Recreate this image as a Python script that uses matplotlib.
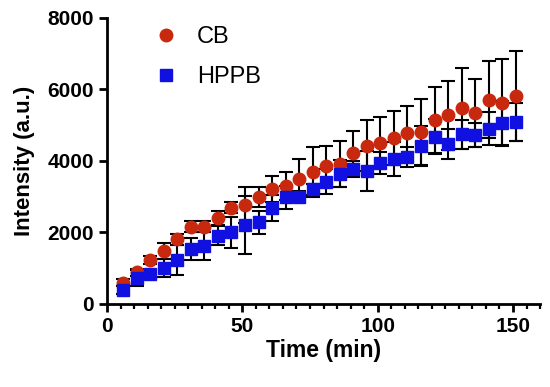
import numpy as np
import matplotlib.pyplot as plt

plt.rcParams['font.family'] = ['Liberation Sans', 'DejaVu Sans']

# time points (min)
time = [6, 11, 16, 21, 26, 31, 36, 41, 46, 51, 56, 61, 66, 71, 76,
        81, 86, 91, 96, 101, 106, 111, 116, 121, 126, 131, 136, 141, 146, 151]

cb_mean = [600, 890, 1230, 1490, 1810, 2160, 2160, 2410, 2690, 2770,
           2980, 3220, 3300, 3500, 3700, 3870, 3920, 4230, 4430, 4510,
           4650, 4770, 4810, 5150, 5280, 5470, 5330, 5720, 5630, 5820]
cb_err = [100, 100, 100, 220, 150, 150, 150, 200, 150, 500,
          280, 360, 390, 550, 700, 560, 650, 600, 720, 710,
          750, 760, 930, 930, 960, 1140, 950, 1070, 1210, 1270]

hppb_mean = [390, 720, 840, 1000, 1230, 1540, 1620, 1910, 2000, 2210,
             2280, 2680, 2980, 3000, 3210, 3420, 3650, 3770, 3720, 3950,
             4060, 4120, 4430, 4680, 4480, 4750, 4730, 4900, 5050, 5090]
hppb_err = [100, 230, 100, 250, 420, 310, 390, 260, 440, 820,
            330, 355, 330, 150, 160, 345, 390, 220, 560, 300,
            485, 280, 560, 485, 420, 410, 330, 465, 615, 520]

fig = plt.figure(figsize=(5.5, 3.87), dpi=100)
ax = fig.add_axes([0.1945, 0.2145, 0.7875, 0.739])

ax.errorbar(time, cb_mean, yerr=cb_err, fmt='o', color='#c8280e', markersize=9,
            ecolor='black', elinewidth=1.5, capsize=5, capthick=1.5, label='CB')
ax.errorbar(time, hppb_mean, yerr=hppb_err, fmt='s', color='#1010e0', markersize=8.5,
            ecolor='black', elinewidth=1.5, capsize=5, capthick=1.5, label='HPPB')

ax.set_xlim(0, 160)
ax.set_ylim(0, 8000)
ax.set_xticks([0, 50, 100, 150])
ax.set_xticks(np.arange(0, 161, 5), minor=True)
ax.set_yticks([0, 2000, 4000, 6000, 8000])

for s in ['top', 'right']:
    ax.spines[s].set_visible(False)
for s in ['left', 'bottom']:
    ax.spines[s].set_linewidth(2)

ax.tick_params(which='major', length=6, width=2, labelsize=15)
ax.tick_params(which='minor', length=3.5, width=1.6)
for lab in ax.get_xticklabels() + ax.get_yticklabels():
    lab.set_fontweight('bold')

ax.set_xlabel('Time (min)', fontsize=16.5, fontweight='bold', labelpad=2)
ax.set_ylabel('Intensity (a.u.)', fontsize=16, fontweight='bold', labelpad=9)

handles, labels = ax.get_legend_handles_labels()
handles = [h[0] for h in handles]
ax.legend(handles, labels, loc='upper left', bbox_to_anchor=(0.06, 1.045),
          frameon=False, fontsize=17, handletextpad=0.8, labelspacing=0.75,
          handlelength=1.0)

fig.savefig('out.png', dpi=100)
